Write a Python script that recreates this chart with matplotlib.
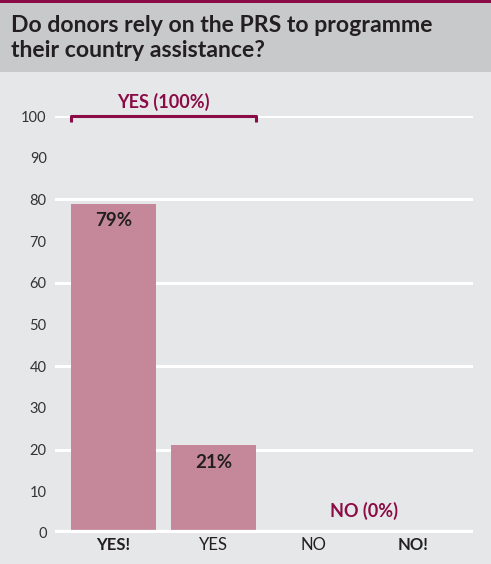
import matplotlib.pyplot as plt
from matplotlib.patches import Rectangle

categories = ['YES!', 'YES', 'NO', 'NO!']
values = [79, 21, 0, 0]
bar_labels = ['79%', '21%', '', '']
bold_ticks = ['YES!', 'NO!']
yes_total = 'YES (100%)'
no_total = 'NO (0%)'
title_lines = ['Do donors rely on the PRS to programme', 'their country assistance?']

crimson = '#8a0b45'
bar_col = '#c4889a'
bg = '#e6e7e9'
band = '#c8c9cb'
dark = '#231f20'

plt.rcParams['font.family'] = ['Lato', 'DejaVu Sans']

W, H = 491, 564
fig = plt.figure(figsize=(W / 100, H / 100), dpi=100)
fig.patch.set_facecolor(bg)

# title band + thin crimson strip on top
fig.add_artist(Rectangle((0, 1 - 72 / H), 1, 69 / H, transform=fig.transFigure,
                         facecolor=band, edgecolor='none'))
fig.add_artist(Rectangle((0, 1 - 3 / H), 1, 3 / H, transform=fig.transFigure,
                         facecolor=crimson, edgecolor='none'))
for i, line in enumerate(title_lines):
    fig.text(11 / W, 1 - (32 + 25 * i) / H, line, fontsize=16.6, fontweight='bold',
             color=dark, va='baseline', ha='left')

ax = fig.add_axes([55 / W, 1 - 533 / H, 418 / W, 417 / H])
ax.set_facecolor(bg)
x = list(range(len(categories)))
ax.set_xlim(-0.585, 3.595)
ax.set_ylim(0, 100)

for g in range(20, 101, 20):
    ax.axhline(g, color='white', lw=2.2, zorder=1)
ax.axhline(0, color='white', lw=4.5, zorder=3)

bars = ax.bar(x, values, width=0.85, color=bar_col, zorder=2)
for b, lab in zip(bars, bar_labels):
    if lab:
        ax.text(b.get_x() + b.get_width() / 2, b.get_height() - 4, lab,
                ha='center', va='center', fontsize=13.5, fontweight='bold', color=dark)

# bracket over the two YES bars
x0 = bars[0].get_x()
x1 = bars[1].get_x() + bars[1].get_width()
ax.plot([x0, x0, x1, x1], [98.6, 100, 100, 98.6], color=crimson, lw=2.2,
        solid_capstyle='butt', zorder=4, clip_on=False)
ax.text((x0 + x1) / 2, 101.2, yes_total, ha='center', va='bottom', fontsize=13,
        fontweight='bold', color=crimson)
ax.text(2.5, 5.3, no_total, ha='center', va='center', fontsize=13,
        fontweight='bold', color=crimson)

ax.set_yticks(range(0, 101, 10))
ax.set_xticks(x)
ax.set_xticklabels(categories)
for t in ax.get_xticklabels():
    if t.get_text() in bold_ticks:
        t.set_fontweight('bold')
ax.tick_params(axis='x', length=0, pad=3, labelsize=12, labelcolor=dark)
ax.tick_params(axis='y', length=0, pad=6, labelsize=10.5, labelcolor='#333333')
for s in ax.spines.values():
    s.set_visible(False)

fig.savefig('out.png', dpi=100, facecolor=bg)
